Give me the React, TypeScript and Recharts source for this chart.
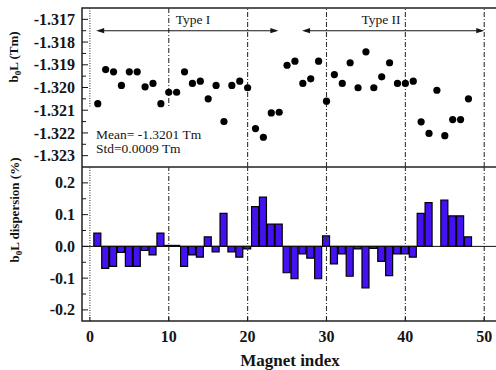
import React from 'react';
import { ComposedChart, Scatter, Bar, XAxis, YAxis, ReferenceLine, ReferenceArea } from 'recharts';

const magnetIndex = [1,2,3,4,5,6,7,8,9,10,11,12,13,14,15,16,17,18,19,20,21,22,23,24,25,26,27,28,29,30,31,32,33,34,35,36,37,38,39,40,41,42,43,44,45,46,47,48];
const bL = [-1.32071,-1.31921,-1.31931,-1.31991,-1.31931,-1.31931,-1.31997,-1.31982,-1.32071,-1.32021,
  -1.32021,-1.31931,-1.31982,-1.31972,-1.3205,-1.31991,-1.3215,-1.31991,-1.31972,-1.32001,
  -1.32181,-1.32219,-1.32112,-1.32109,-1.31902,-1.31884,-1.31982,-1.31962,-1.31884,-1.3206,
  -1.31943,-1.31982,-1.31891,-1.32001,-1.31843,-1.32001,-1.31953,-1.31891,-1.31982,-1.31982,
  -1.31972,-1.32151,-1.32202,-1.32012,-1.32212,-1.32141,-1.32141,-1.3205];
const dispersion = [0.042,-0.069,-0.063,-0.019,-0.063,-0.063,-0.013,-0.027,0.042,0.003,
  0.003,-0.063,-0.027,-0.034,0.030,-0.017,0.104,-0.017,-0.034,-0.008,
  0.125,0.155,0.070,0.070,-0.083,-0.102,-0.024,-0.037,-0.102,0.033,
  -0.055,-0.024,-0.094,-0.008,-0.131,-0.006,-0.047,-0.092,-0.024,-0.024,
  -0.034,0.104,0.138,0.0,0.146,0.096,0.096,0.030];

const xTicks = [0, 10, 20, 30, 40, 50];
const gridX = [0, 10, 20, 30, 40, 50];
const topTicks = [-1.323,-1.3225,-1.322,-1.3215,-1.321,-1.3205,-1.32,-1.3195,-1.319,-1.3185,-1.318,-1.3175,-1.317];
const bottomTicks = [-0.2,-0.15,-0.1,-0.05,0,0.05,0.1,0.15,0.2];
const typeLabels = ['Type I', 'Type II'];
const statLines = ['Mean= -1.3201 Tm', 'Std=0.0009 Tm'];

const X_DOMAIN: [number, number] = [-1, 52];
const TOP_DOMAIN: [number, number] = [-1.3235, -1.3165];
const BOT_DOMAIN: [number, number] = [-0.235, 0.25];

const topData = magnetIndex.map((idx, i) => ({ idx, v: bL[i] }));
const barData = magnetIndex.map((idx, i) => ({ idx, d: dispersion[i] }));

const SERIF = '"Liberation Serif", "Times New Roman", serif';
const INK = '#151515';
const BAR_FILL = '#4412f2';

const makeYTick = (decimals: number, step: number) => (props: any) => {
  const { x, y, payload } = props;
  const v = payload.value as number;
  const major = Math.abs(v / step - Math.round(v / step)) < 1e-6;
  return (
    <g>
      <line x1={x} x2={x + (major ? 6 : 4)} y1={y} y2={y} stroke={INK} strokeWidth={1} />
      {major && (
        <text x={x - 7} y={y} dy="0.35em" textAnchor="end" fontFamily={SERIF} fontWeight="bold" fontSize={16} fill={INK}>
          {v.toFixed(decimals)}
        </text>
      )}
    </g>
  );
};

const XTick = (props: any) => {
  const { x, y, payload } = props;
  return (
    <g>
      <line x1={x} x2={x} y1={y} y2={y - 4} stroke={INK} strokeWidth={1} />
      <text x={x} y={y + 21} textAnchor="middle" fontFamily={SERIF} fontWeight="bold" fontSize={16} fill={INK}>
        {payload.value}
      </text>
    </g>
  );
};

const arrowShape = (p: any) => {
  const { x1, y1, x2, y2 } = p;
  const L = 8, W = 2.6;
  return (
    <g>
      <line x1={x1 + 3} y1={y1} x2={x2 - 3} y2={y2} stroke={INK} strokeWidth={1.1} />
      <polygon points={`${x1},${y1} ${x1 + L},${y1 - W} ${x1 + L},${y1 + W}`} fill={INK} />
      <polygon points={`${x2},${y2} ${x2 - L},${y2 - W} ${x2 - L},${y2 + W}`} fill={INK} />
    </g>
  );
};

const dashFor = (g: number) => (g === 0 ? '1 1.5' : '5 2 1 2');

const CHART_W = 520;
const MARGIN_RIGHT = 20;
const Y_W = 82;

export default function App() {
  return (
    <div style={{ position: 'absolute', left: 0, top: 0, width: 496, height: 370, overflow: 'hidden', background: '#fff' }}>
      <div style={{ position: 'absolute', left: 0, top: 0 }}>
        <ComposedChart width={CHART_W} height={167} data={topData} margin={{ top: 8, right: MARGIN_RIGHT, bottom: 0, left: 0 }}>
          <XAxis dataKey="idx" type="number" domain={X_DOMAIN} hide allowDataOverflow />
          <YAxis dataKey="v" type="number" domain={TOP_DOMAIN} ticks={topTicks} width={Y_W} allowDataOverflow
            axisLine={false} tickLine={false} tickSize={0} tickMargin={0} tick={makeYTick(3, 0.001)} interval={0} />
          {gridX.map((g) =>
            g <= 10 ? (
              <ReferenceLine key={g} segment={[{ x: g, y: TOP_DOMAIN[1] }, { x: g, y: -1.3209 }]} stroke="#333" strokeWidth={1.1} strokeDasharray={dashFor(g)} />
            ) : (
              <ReferenceLine key={g} x={g} stroke="#333" strokeWidth={1.1} strokeDasharray={dashFor(g)} />
            )
          )}
          <ReferenceLine segment={[{ x: 0.8, y: -1.3175 }, { x: 23.9, y: -1.3175 }]} shape={arrowShape} />
          <ReferenceLine segment={[{ x: 26.9, y: -1.3175 }, { x: 50, y: -1.3175 }]} shape={arrowShape} />
          <ReferenceArea x1={X_DOMAIN[0]} x2={X_DOMAIN[1]} y1={TOP_DOMAIN[0]} y2={TOP_DOMAIN[1]} fill="none" stroke="#222" strokeWidth={1.5} fillOpacity={0} ifOverflow="visible" />
          <Scatter dataKey="v" isAnimationActive={false}
            shape={(p: any) => <circle cx={p.cx} cy={p.cy} r={3.6} fill="#000" />} />
        </ComposedChart>
      </div>
      <div style={{ position: 'absolute', left: 0, top: 167 }}>
        <ComposedChart width={CHART_W} height={204} data={barData} margin={{ top: 0, right: MARGIN_RIGHT, bottom: 0, left: 0 }}>
          <XAxis dataKey="idx" type="number" domain={X_DOMAIN} ticks={xTicks} height={50} allowDataOverflow
            axisLine={false} tickLine={false} tickSize={0} tickMargin={0} tick={XTick} interval={0} />
          <YAxis type="number" domain={BOT_DOMAIN} ticks={bottomTicks} width={Y_W} allowDataOverflow
            axisLine={false} tickLine={false} tickSize={0} tickMargin={0} tick={makeYTick(1, 0.1)} interval={0} />
          {gridX.map((g) => (
            <ReferenceLine key={g} x={g} stroke="#333" strokeWidth={1.1} strokeDasharray={dashFor(g)} />
          ))}
          <ReferenceLine y={0} stroke="#111" strokeWidth={1} />
          <Bar dataKey="d" fill={BAR_FILL} stroke="#000" strokeWidth={1.2} barSize={7} isAnimationActive={false} />
          <ReferenceArea x1={X_DOMAIN[0]} x2={X_DOMAIN[1]} y1={BOT_DOMAIN[0]} y2={BOT_DOMAIN[1]} fill="none" stroke="#222" strokeWidth={1.5} fillOpacity={0} ifOverflow="visible" />
        </ComposedChart>
      </div>
      <svg width={496} height={370} style={{ position: 'absolute', left: 0, top: 0, pointerEvents: 'none' }}>
        <text x={193} y={24} textAnchor="middle" fontFamily={SERIF} fontSize={13.5} fill={INK}>{typeLabels[0]}</text>
        <text x={381} y={24} textAnchor="middle" fontFamily={SERIF} fontSize={13.5} fill={INK}>{typeLabels[1]}</text>
        <text x={96} y={139} fontFamily={SERIF} fontSize={13.5} fill={INK}>{statLines[0]}</text>
        <text x={96} y={153} fontFamily={SERIF} fontSize={13.5} fill={INK}>{statLines[1]}</text>
        <text transform="translate(18,57) rotate(-90)" textAnchor="middle" fontFamily={SERIF} fontWeight="bold" fontSize={13} fill={INK}>
          b<tspan fontSize={9} dy={3}>0</tspan><tspan dy={-3}>L (Tm)</tspan>
        </text>
        <text transform="translate(19,210) rotate(-90)" textAnchor="middle" fontFamily={SERIF} fontWeight="bold" fontSize={13} fill={INK}>
          b<tspan fontSize={9} dy={3}>0</tspan><tspan dy={-3}>L dispersion (%)</tspan>
        </text>
        <text x={290} y={366} textAnchor="middle" fontFamily={SERIF} fontWeight="bold" fontSize={17} fill={INK}>Magnet index</text>
      </svg>
    </div>
  );
}
